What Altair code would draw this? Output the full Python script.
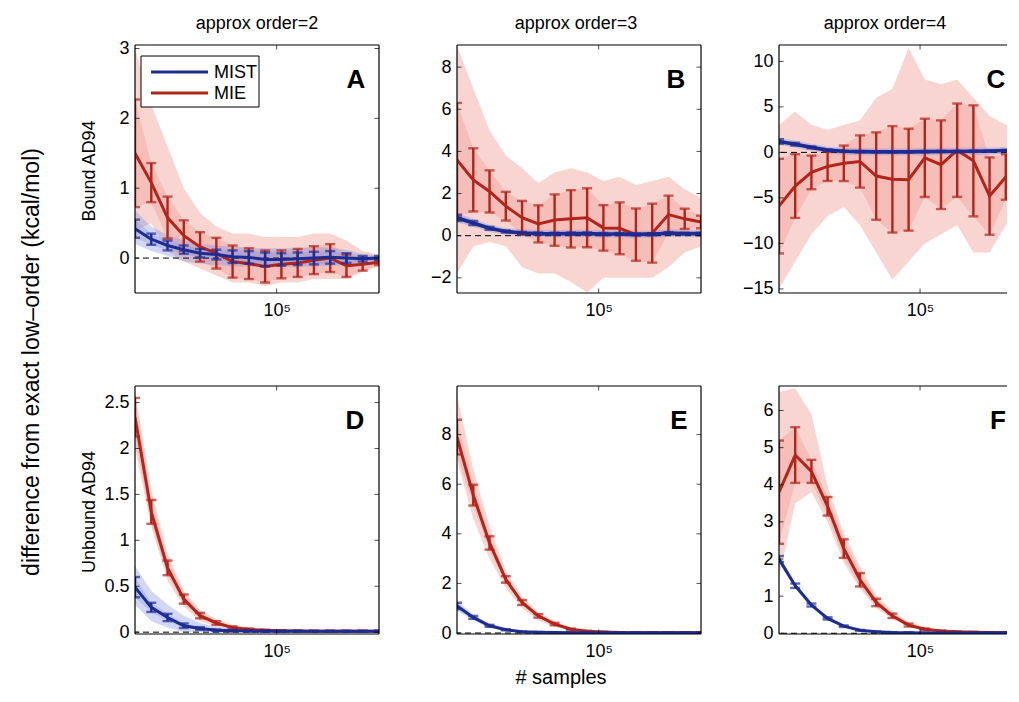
import altair as alt
import pandas as pd

# ---------------- data ----------------
X = [20000, 24060, 28945, 34821, 41890, 50394, 60625, 72932,
     87738, 105550, 126978, 152756, 183767, 221073, 265953, 320000]

# Panel A  (Bound AD94, order 2)
A_MIST = [0.42, 0.27, 0.18, 0.12, 0.07, 0.05, 0.02, 0.01, -0.02, -0.02, -0.01, 0.0, 0.01, 0.0, -0.01, 0.0]
A_MIST_ERR = [0.13, 0.08, 0.07, 0.06, 0.06, 0.07, 0.09, 0.09, 0.10, 0.09, 0.09, 0.09, 0.09, 0.07, 0.04, 0.03]
A_MIE = [1.50, 1.08, 0.58, 0.32, 0.16, 0.07, -0.05, -0.08, -0.12, -0.09, -0.07, -0.03, 0.0, -0.11, -0.09, -0.06]
A_MIE_ERR = [0.77, 0.28, 0.30, 0.22, 0.21, 0.22, 0.23, 0.22, 0.23, 0.20, 0.20, 0.20, 0.20, 0.16, 0.09, 0.04]
A_MIST_CLO = [0.20, 0.10, 0.03, -0.05, -0.08, -0.10, -0.12, -0.12, -0.13, -0.12, -0.12, -0.12, -0.11, -0.10, -0.06, -0.04]
A_MIST_CHI = [0.68, 0.45, 0.33, 0.25, 0.20, 0.18, 0.16, 0.15, 0.14, 0.14, 0.15, 0.15, 0.15, 0.12, 0.06, 0.04]
A_MIE_CLO = [0.40, 0.50, 0.10, -0.05, -0.15, -0.25, -0.35, -0.35, -0.40, -0.35, -0.35, -0.30, -0.30, -0.30, -0.20, -0.12]
A_MIE_CHI = [3.00, 2.20, 1.60, 1.00, 0.65, 0.45, 0.35, 0.35, 0.30, 0.30, 0.30, 0.35, 0.35, 0.25, 0.10, 0.05]

# Panel B  (Bound AD94, order 3)
B_MIST = [0.85, 0.60, 0.35, 0.20, 0.13, 0.10, 0.09, 0.10, 0.10, 0.08, 0.08, 0.06, 0.07, 0.12, 0.10, 0.10]
B_MIST_ERR = [0.15, 0.10, 0.07, 0.05, 0.05, 0.05, 0.05, 0.05, 0.05, 0.05, 0.05, 0.05, 0.05, 0.05, 0.04, 0.04]
B_MIE = [3.60, 2.65, 2.10, 1.40, 0.85, 0.56, 0.74, 0.80, 0.85, 0.37, 0.35, 0.05, 0.12, 1.00, 0.80, 0.65]
B_MIE_ERR = [2.70, 1.50, 1.00, 0.68, 0.80, 0.88, 1.22, 1.36, 1.40, 1.08, 1.23, 1.24, 1.40, 0.90, 0.48, 0.30]
B_MIST_CLO = [0.62, 0.42, 0.18, 0.04, -0.04, -0.08, -0.09, -0.08, -0.08, -0.10, -0.10, -0.12, -0.11, -0.06, -0.08, -0.08]
B_MIST_CHI = [1.08, 0.80, 0.52, 0.36, 0.30, 0.28, 0.27, 0.28, 0.28, 0.26, 0.26, 0.24, 0.25, 0.30, 0.28, 0.28]
B_MIE_CLO = [-1.8, -0.5, -0.3, -0.5, -1.5, -1.8, -1.8, -2.2, -2.7, -2.0, -2.0, -2.0, -2.0, -1.5, -0.8, -0.5]
B_MIE_CHI = [9.0, 7.0, 5.0, 3.8, 3.2, 2.5, 3.0, 3.2, 3.0, 2.6, 2.8, 2.4, 2.6, 2.8, 2.2, 1.8]

# Panel C  (Bound AD94, order 4)
C_MIST = [1.20, 0.90, 0.55, 0.25, 0.12, 0.08, 0.06, 0.06, 0.06, 0.08, 0.10, 0.10, 0.12, 0.15, 0.20, 0.25]
C_MIST_ERR = [0.25, 0.15, 0.10, 0.08, 0.06, 0.06, 0.06, 0.06, 0.06, 0.06, 0.06, 0.06, 0.06, 0.06, 0.06, 0.06]
C_MIE = [-5.90, -3.70, -2.20, -1.54, -1.20, -1.00, -2.60, -2.96, -3.00, -0.60, -1.35, 0.24, -0.93, -4.80, -2.70, -1.00]
C_MIE_ERR = [5.20, 3.50, 1.85, 1.60, 1.95, 2.87, 4.80, 5.85, 5.60, 4.30, 4.87, 5.13, 6.10, 4.25, 2.50, 2.80]
C_MIST_CLO = [0.80, 0.50, 0.15, -0.15, -0.28, -0.32, -0.34, -0.34, -0.34, -0.32, -0.30, -0.30, -0.28, -0.25, -0.20, -0.15]
C_MIST_CHI = [1.60, 1.30, 0.95, 0.65, 0.52, 0.48, 0.46, 0.46, 0.46, 0.48, 0.50, 0.50, 0.52, 0.55, 0.60, 0.65]
C_MIE_CLO = [-15.0, -12.0, -9.0, -7.0, -6.0, -8.0, -11.0, -14.0, -12.0, -10.0, -9.0, -8.0, -11.0, -11.0, -8.0, -6.0]
C_MIE_CHI = [3.0, 4.5, 3.0, 2.5, 3.0, 3.5, 6.0, 7.0, 11.5, 8.0, 7.5, 8.0, 6.0, 4.0, 3.0, 3.0]

# Panel D  (Unbound AD94, order 2)
D_MIST = [0.49, 0.27, 0.16, 0.07, 0.04, 0.02, 0.015, 0.012, 0.01, 0.01, 0.01, 0.01, 0.01, 0.01, 0.01, 0.01]
D_MIST_ERR = [0.11, 0.05, 0.04, 0.025, 0.015, 0.01, 0.008, 0.006, 0.005, 0.005, 0.005, 0.005, 0.005, 0.005, 0.005, 0.005]
D_MIE = [2.34, 1.31, 0.70, 0.36, 0.18, 0.10, 0.05, 0.03, 0.02, 0.015, 0.012, 0.01, 0.01, 0.01, 0.01, 0.01]
D_MIE_ERR = [0.21, 0.13, 0.08, 0.05, 0.03, 0.02, 0.012, 0.01, 0.008, 0.006, 0.005, 0.005, 0.005, 0.005, 0.005, 0.005]
D_MIST_CLO = [0.30, 0.12, 0.05, 0.0, 0.0, 0.0, 0.0, 0.0, 0.0, 0.0, 0.0, 0.0, 0.0, 0.0, 0.0, 0.0]
D_MIST_CHI = [0.72, 0.45, 0.30, 0.18, 0.10, 0.06, 0.04, 0.03, 0.025, 0.02, 0.02, 0.02, 0.02, 0.02, 0.02, 0.02]
D_MIE_CLO = [2.00, 1.15, 0.56, 0.28, 0.12, 0.06, 0.03, 0.02, 0.012, 0.008, 0.006, 0.005, 0.005, 0.005, 0.005, 0.005]
D_MIE_CHI = [2.62, 1.55, 0.85, 0.45, 0.24, 0.14, 0.08, 0.05, 0.035, 0.025, 0.02, 0.018, 0.016, 0.016, 0.016, 0.016]

# Panel E  (Unbound AD94, order 3)
E_MIST = [1.09, 0.63, 0.29, 0.13, 0.05, 0.03, 0.02, 0.015, 0.01, 0.01, 0.01, 0.01, 0.01, 0.01, 0.01, 0.01]
E_MIST_ERR = [0.13, 0.06, 0.04, 0.02, 0.01, 0.01, 0.01, 0.01, 0.01, 0.01, 0.01, 0.01, 0.01, 0.01, 0.01, 0.01]
E_MIE = [7.90, 5.56, 3.63, 2.16, 1.23, 0.69, 0.36, 0.15, 0.07, 0.04, 0.02, 0.015, 0.01, 0.01, 0.01, 0.01]
E_MIE_ERR = [0.70, 0.42, 0.27, 0.13, 0.10, 0.07, 0.05, 0.03, 0.02, 0.01, 0.01, 0.01, 0.01, 0.01, 0.01, 0.01]
E_MIST_CLO = [0.90, 0.50, 0.20, 0.07, 0.02, 0.01, 0.0, 0.0, 0.0, 0.0, 0.0, 0.0, 0.0, 0.0, 0.0, 0.0]
E_MIST_CHI = [1.30, 0.75, 0.38, 0.20, 0.09, 0.05, 0.04, 0.03, 0.02, 0.02, 0.02, 0.02, 0.02, 0.02, 0.02, 0.02]
E_MIE_CLO = [7.00, 4.60, 3.00, 1.80, 1.00, 0.50, 0.25, 0.10, 0.04, 0.02, 0.01, 0.01, 0.01, 0.01, 0.01, 0.01]
E_MIE_CHI = [9.60, 6.60, 4.30, 2.50, 1.45, 0.85, 0.48, 0.22, 0.10, 0.05, 0.03, 0.02, 0.02, 0.02, 0.02, 0.02]

# Panel F  (Unbound AD94, order 4)
F_MIST = [2.00, 1.28, 0.76, 0.40, 0.19, 0.08, 0.04, 0.02, 0.015, 0.01, 0.01, 0.01, 0.01, 0.01, 0.01, 0.01]
F_MIST_ERR = [0.08, 0.06, 0.04, 0.03, 0.02, 0.01, 0.01, 0.01, 0.01, 0.01, 0.01, 0.01, 0.01, 0.01, 0.01, 0.01]
F_MIE = [3.80, 4.80, 4.36, 3.42, 2.28, 1.44, 0.83, 0.47, 0.22, 0.11, 0.06, 0.04, 0.03, 0.02, 0.02, 0.02]
F_MIE_ERR = [1.39, 0.75, 0.31, 0.25, 0.25, 0.18, 0.10, 0.06, 0.04, 0.02, 0.015, 0.01, 0.01, 0.01, 0.01, 0.01]
F_MIST_CLO = [1.90, 1.20, 0.70, 0.35, 0.16, 0.06, 0.03, 0.01, 0.01, 0.0, 0.0, 0.0, 0.0, 0.0, 0.0, 0.0]
F_MIST_CHI = [2.10, 1.36, 0.82, 0.45, 0.22, 0.10, 0.05, 0.03, 0.02, 0.02, 0.02, 0.02, 0.02, 0.02, 0.02, 0.02]
F_MIE_CLO = [1.50, 3.50, 3.80, 3.00, 1.90, 1.20, 0.68, 0.38, 0.16, 0.07, 0.03, 0.02, 0.015, 0.01, 0.01, 0.01]
F_MIE_CHI = [6.50, 6.60, 5.90, 3.95, 2.70, 1.80, 1.02, 0.60, 0.30, 0.16, 0.09, 0.06, 0.04, 0.03, 0.03, 0.03]

SERIES = ["MIST", "MIE"]
COL_TITLES = ["approx order=2", "approx order=3", "approx order=4"]
ROW_TITLES = ["Bound AD94", "Unbound AD94"]
LETTERS = ["A", "B", "C", "D", "E", "F"]
Y_DOMAINS = [[-0.5, 3.05], [-2.72, 9.05], [-15.45, 11.8],
             [-0.02, 2.68], [-0.04, 9.96], [-0.02, 6.66]]
Y_TICKS = [[0, 1, 2, 3], [-2, 0, 2, 4, 6, 8], [-15, -10, -5, 0, 5, 10],
           [0, 0.5, 1, 1.5, 2, 2.5], [0, 2, 4, 6, 8], [0, 1, 2, 3, 4, 5, 6]]
X_TICKS = [100000]
X_MAX_VISIBLE = 269700          # right column is cut by the figure edge
BIG_LABEL = "difference from exact low\u2013order (kcal/mol)"
X_LABEL = "# samples"

PANELS = [
    (A_MIST, A_MIST_ERR, A_MIE, A_MIE_ERR, A_MIST_CLO, A_MIST_CHI, A_MIE_CLO, A_MIE_CHI),
    (B_MIST, B_MIST_ERR, B_MIE, B_MIE_ERR, B_MIST_CLO, B_MIST_CHI, B_MIE_CLO, B_MIE_CHI),
    (C_MIST, C_MIST_ERR, C_MIE, C_MIE_ERR, C_MIST_CLO, C_MIST_CHI, C_MIE_CLO, C_MIE_CHI),
    (D_MIST, D_MIST_ERR, D_MIE, D_MIE_ERR, D_MIST_CLO, D_MIST_CHI, D_MIE_CLO, D_MIE_CHI),
    (E_MIST, E_MIST_ERR, E_MIE, E_MIE_ERR, E_MIST_CLO, E_MIST_CHI, E_MIE_CLO, E_MIE_CHI),
    (F_MIST, F_MIST_ERR, F_MIE, F_MIE_ERR, F_MIST_CLO, F_MIST_CHI, F_MIE_CLO, F_MIE_CHI),
]

# ---------------- style ----------------
FONT = "Liberation Sans, Arial, Helvetica, sans-serif"
RED = "#B3241A"
BLUE = "#1E2C92"
RED_CLOUD = "#EE8A80"
BLUE_CLOUD = "#7F8FE0"
W, H = 244, 248
W_CUT = 228
TITLE_X = [122, 119, 106]
LETTER_X = [221, 219, 217, 220, 222, 219]


def txt(s, **kw):
    return alt.Chart(pd.DataFrame({"t": [s]})).mark_text(font=FONT, color="black", **kw)


def make_panel(k):
    mist, mist_err, mie, mie_err, mist_clo, mist_chi, mie_clo, mie_chi = PANELS[k]
    rows = []
    for s, m, e, lo, hi in [("MIST", mist, mist_err, mist_clo, mist_chi),
                            ("MIE", mie, mie_err, mie_clo, mie_chi)]:
        for i, x in enumerate(X):
            rows.append(dict(x=x, series=s, mean=m[i], lo=m[i] - e[i],
                             hi=m[i] + e[i], clo=lo[i], chi=hi[i]))
    df = pd.DataFrame(rows)

    ydom = Y_DOMAINS[k]
    row, col = divmod(k, 3)
    cut = col == 2
    width = W_CUT if cut else W
    xmax = X_MAX_VISIBLE if cut else X[-1]

    xs = alt.Scale(type="log", domain=[X[0], xmax], nice=False, zero=False)
    ys = alt.Scale(domain=ydom, nice=False, zero=False)
    xaxis = alt.Axis(values=X_TICKS, labelExpr="'10\u2075'", labelPadding=8,
                     labelFontSize=18, labelFlush=False, title=None)
    yaxis = alt.Axis(values=Y_TICKS[k], format="~g", labelPadding=6,
                     labelFontSize=18, labelFlush=False, title=None)

    def XE(field="x"):
        return alt.X(field, type="quantitative", scale=xs, axis=xaxis)

    def YE(field):
        return alt.Y(field, type="quantitative", scale=ys, axis=yaxis)

    color = alt.Color("series:N",
                      scale=alt.Scale(domain=SERIES, range=[BLUE, RED]),
                      legend=None)
    fill = alt.Fill("series:N",
                    scale=alt.Scale(domain=SERIES, range=[BLUE_CLOUD, RED_CLOUD]),
                    legend=None)

    base = alt.Chart(df)
    layers = []
    # clouds of the individual runs: full spread, denser core around the mean
    for s in ["MIE", "MIST"]:
        sub = base.transform_filter(alt.datum.series == s)
        layers.append(sub.mark_area(opacity=0.36, clip=True)
                      .encode(x=XE(), y=YE("clo"), y2="chi", fill=fill))
        layers.append(sub.mark_area(opacity=0.3, clip=True)
                      .encode(x=XE(), y=YE("lo"), y2="hi", fill=fill))
    # dashed zero line
    layers.append(
        alt.Chart(pd.DataFrame({"y": [0]}))
        .mark_rule(color="black", strokeDash=[6, 4], strokeWidth=1)
        .encode(y=YE("y"))
    )
    # mean curves with error bars
    for s in ["MIE", "MIST"]:
        sub = base.transform_filter(alt.datum.series == s)
        lw = 3.6 if (s == "MIST" and k in (1, 2)) else 3
        layers.append(sub.mark_line(strokeWidth=lw, clip=True)
                      .encode(x=XE(), y=YE("mean"), color=color))
        layers.append(sub.mark_rule(strokeWidth=2.4, clip=True)
                      .encode(x=XE(), y=YE("lo"), y2="hi", color=color))
        for f in ["lo", "hi"]:
            layers.append(sub.mark_tick(orient="horizontal", size=10,
                                        thickness=2.4, clip=True)
                          .encode(x=XE(), y=YE(f), color=color))

    # inward tick marks of the box
    ytk = pd.DataFrame([{"x": xv, "y": t} for t in Y_TICKS[k] for xv in (X[0], X[-1])])
    layers.append(alt.Chart(ytk).mark_tick(orient="horizontal", size=9,
                                           thickness=1, color="black", clip=True)
                  .encode(x=XE(), y=YE("y")))
    xtk = pd.DataFrame([{"x": t, "y": yv} for t in X_TICKS for yv in ydom])
    layers.append(alt.Chart(xtk).mark_tick(orient="vertical", size=9,
                                           thickness=1, color="black", clip=True)
                  .encode(x=XE(), y=YE("y")))

    # legend (panel A)
    if k == 0:
        layers.append(
            alt.Chart(pd.DataFrame({"t": [0]}))
            .mark_rect(fill="white", stroke="black", strokeWidth=1)
            .encode(x=alt.value(6), x2=alt.value(124), y=alt.value(11), y2=alt.value(62))
        )
        for i, s in enumerate(SERIES):
            ly = 27 + 21 * i
            ldf = alt.Chart(pd.DataFrame({"series": [s]}))
            layers.append(ldf.mark_rule(strokeWidth=3)
                          .encode(x=alt.value(16), x2=alt.value(73),
                                  y=alt.value(ly), color=color))
            layers.append(ldf.mark_text(font=FONT, fontSize=18, color="black",
                                        align="left", baseline="middle")
                          .encode(text="series:N", x=alt.value(79), y=alt.value(ly + 1)))

    # axes box (the right side of the last column lies beyond the figure edge)
    one = alt.Chart(pd.DataFrame({"t": [0]}))
    box = [dict(x=alt.value(0), y=alt.value(0), y2=alt.value(H)),
           dict(x=alt.value(0), x2=alt.value(width), y=alt.value(0)),
           dict(x=alt.value(0), x2=alt.value(width), y=alt.value(H))]
    if not cut:
        box.append(dict(x=alt.value(width), y=alt.value(0), y2=alt.value(H)))
    for b in box:
        layers.append(one.mark_rule(color="black", strokeWidth=1.2).encode(**b))

    # panel letter
    layers.append(txt(LETTERS[k], fontSize=26, fontWeight="bold",
                      align="center", baseline="alphabetic")
                  .encode(text="t:N", x=alt.value(LETTER_X[k]), y=alt.value(43)))
    # column titles
    if row == 0:
        layers.append(txt(COL_TITLES[col], fontSize=18, align="center",
                          baseline="alphabetic")
                      .encode(text="t:N", x=alt.value(TITLE_X[col]), y=alt.value(-16)))
    # row titles
    if col == 0:
        layers.append(txt(ROW_TITLES[row], fontSize=18, angle=270, align="center",
                          baseline="middle")
                      .encode(text="t:N", x=alt.value(-45), y=alt.value(H / 2 + 2)))
    # shared axis titles
    if k == 0:
        layers.append(txt(BIG_LABEL, fontSize=23, angle=270, align="center",
                          baseline="middle")
                      .encode(text="t:N", x=alt.value(-103), y=alt.value(317)))
    if k == 4:
        layers.append(txt(X_LABEL, fontSize=20, align="center", baseline="alphabetic")
                      .encode(text="t:N", x=alt.value(104), y=alt.value(H + 50)))

    return alt.layer(*layers).properties(width=width, height=H)


panels = [make_panel(k) for k in range(6)]

chart = (
    alt.concat(*panels, columns=3, spacing={"row": 93, "column": 78}, bounds="flush")
    .resolve_scale(x="independent", y="independent", color="independent",
                   fill="independent")
    .properties(padding={"left": 13, "top": 7, "right": 0, "bottom": 0})
    .configure_view(stroke="transparent", strokeWidth=0)
    .configure_axis(labelFont=FONT, labelColor="black", grid=False,
                    domain=False, ticks=False)
)

chart.save("out.html", embed_options={"renderer": "svg", "actions": False})
